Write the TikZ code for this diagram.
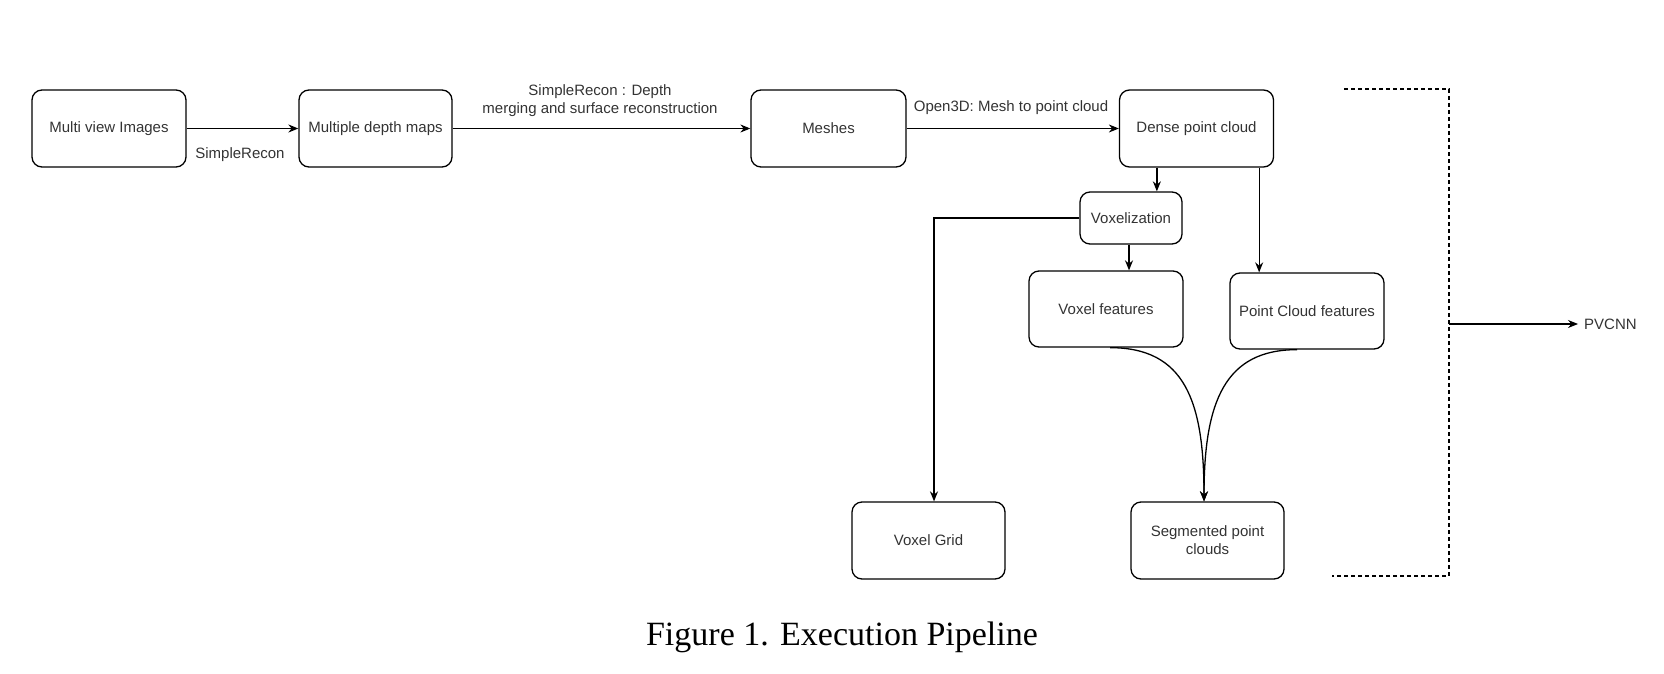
\documentclass[tikz,border=0pt]{standalone}
\usepackage{fontspec}
\setmainfont{Liberation Serif}
\setsansfont{Liberation Sans}
\usetikzlibrary{arrows.meta,calc}
\begin{document}
\begin{tikzpicture}[x=1pt,y=-1pt,
  box/.style={draw, line width=1.3pt, rounded corners=10pt, inner sep=2pt,
    font=\sffamily\fontsize{15}{18}\selectfont, text=black!80, align=center},
  arr/.style={line width=1.3pt, -{Stealth[length=10pt,width=8pt]}},
  lbl/.style={font=\sffamily\fontsize{15}{18}\selectfont, text=black!80, align=center},
  dsh/.style={line width=1.2pt, dash pattern=on 4pt off 3pt}]
\useasboundingbox (0,0) rectangle (1664,674);
% boxes
\node[box, minimum width=154pt, minimum height=77pt] (mvi) at (109,128.5) {Multi view Images};
\node[box, minimum width=153pt, minimum height=77pt] (mdm) at (375.5,128.5) {Multiple depth maps};
\node[box, minimum width=155pt, minimum height=77pt] (mesh) at (828.5,128.5) {Meshes};
\node[box, minimum width=154pt, minimum height=77pt] (dpc) at (1196.5,128.5) {Dense point cloud};
\node[box, minimum width=102pt, minimum height=52pt] (vox) at (1131,218) {Voxelization};
\node[box, minimum width=154pt, minimum height=76pt] (vf) at (1106,309) {Voxel features};
\node[box, minimum width=154pt, minimum height=76pt] (pcf) at (1307,311) {Point Cloud features};
\node[box, minimum width=153pt, minimum height=77pt] (vg) at (928.5,540.5) {Voxel Grid};
\node[box, minimum width=153pt, minimum height=77pt] (spc) at (1207.5,540.5) {Segmented point\\clouds};
% labels
\node[lbl] (l1) at (240,155) {SimpleRecon};
\node[lbl] (l2) at (600,100.5) {SimpleRecon : Depth\\merging and surface reconstruction};
\node[lbl] (l3) at (1011,108) {Open3D: Mesh to point cloud};
\node[lbl, anchor=west, inner sep=0pt] (pv) at (1584,324) {PVCNN};
\node[font=\fontsize{34}{40}\selectfont] (cap) at (842,637) {Figure 1. Execution Pipeline};
% main arrows
\draw[arr] (mvi.east) -- (mdm.west);
\draw[arr] (mdm.east) -- (mesh.west);
\draw[arr] (mesh.east) -- (dpc.west);
\draw[arr] ([xshift=38pt]dpc.south west) -- ([xshift=38pt]dpc.south west |- vox.north);
\draw[arr] ([xshift=-15pt]dpc.south east) -- ([xshift=-15pt]dpc.south east |- pcf.north);
\draw[arr] ([xshift=-2pt]vox.south) -- ([xshift=-2pt]vox.south |- vf.north);
\draw[arr] (vox.west) -| ([xshift=5.5pt]vg.north);
% curves
\coordinate (c1) at ([xshift=4pt]vf.south);
\coordinate (c2) at ([xshift=-10pt]pcf.south);
\coordinate (t) at ([xshift=-3.5pt]spc.north);
\draw[arr] (c1) .. controls ($(c1)+(75,0)$) and ($(t)+(0,-100)$) .. (t);
\draw[arr] (c2) .. controls ($(c2)+(-72,0)$) and ($(t)+(0,-100)$) .. (t);
% dashed bracket
\coordinate (b1) at (1344,89);
\coordinate (b2) at (1449,89);
\coordinate (b3) at (1449,576);
\coordinate (b4) at (1332,576);
\coordinate (bm) at (1449,324);
\draw[dsh] (b1) -- (b2) -- (b3) -- (b4);
\draw[arr] (bm) -- ([xshift=-6pt]pv.west);
\end{tikzpicture}
\end{document}
